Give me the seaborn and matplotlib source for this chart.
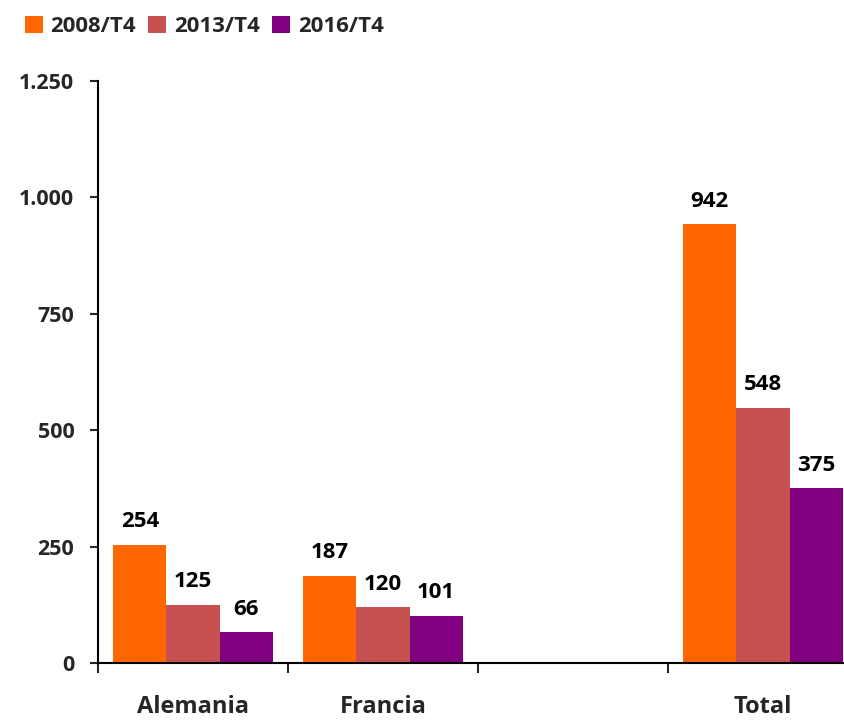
import numpy as np
import pandas as pd
import matplotlib
matplotlib.use("Agg")
import matplotlib.pyplot as plt
import matplotlib.ticker as mtick
from matplotlib.patches import Patch
import seaborn as sns

# Data
categories = ["Alemania", "Francia", "", "Total"]
series     = ["2008/T4", "2013/T4", "2016/T4"]
alemania   = [254, 125, 66]
francia    = [187, 120, 101]
total      = [942, 548, 375]
yticks     = [0, 250, 500, 750, 1000, 1250]

COLORS = ["#FF6600", "#C75050", "#800080"]

rows = []
for cat, vals in [("Alemania", alemania), ("Francia", francia), ("Total", total)]:
    for s, v in zip(series, vals):
        rows.append({"pais": cat, "periodo": s, "valor": v})
df = pd.DataFrame(rows)

sns.set_style("white")
plt.rcParams["font.family"] = ["Open Sans", "DejaVu Sans"]
plt.rcParams["font.weight"] = "bold"

fig = plt.figure(figsize=(8.44, 7.2), dpi=100)
ax = fig.add_axes([98 / 844, 57 / 720, 760 / 844, 582 / 720])

sns.barplot(data=df, x="pais", y="valor", hue="periodo", order=categories,
            hue_order=series, palette=COLORS, width=0.84, saturation=1,
            errorbar=None, ax=ax, legend=False, linewidth=0)

for cont in ax.containers:
    ax.bar_label(cont, labels=[f"{int(v)}" for v in cont.datavalues],
                 padding=9, fontsize=16, fontweight="bold", color="black")

ax.set_xlim(-0.5, 3.5)
ax.set_ylim(0, 1250)
ax.set_yticks(yticks)
ax.yaxis.set_major_formatter(mtick.FuncFormatter(lambda v, _: f"{int(v):,}".replace(",", ".")))
ax.tick_params(axis="y", length=6, width=1.5, pad=11, labelsize=15.5, direction="out", left=True)

ax.set_xticks(range(len(categories)))
ax.set_xticklabels(categories)
ax.set_xticks(np.arange(-0.5, 3.6, 1.0), minor=True)
ax.tick_params(axis="x", which="major", length=0, pad=23, labelsize=17)
ax.tick_params(axis="x", which="minor", length=7, width=1.5, direction="out", bottom=True)
for lab in ax.get_xticklabels() + ax.get_yticklabels():
    lab.set_fontweight("bold")

ax.set_xlabel("")
ax.set_ylabel("")
for side in ["top", "right"]:
    ax.spines[side].set_visible(False)
for side in ["left", "bottom"]:
    ax.spines[side].set_linewidth(1.5)
    ax.spines[side].set_color("black")

handles = [Patch(facecolor=c, edgecolor="none") for c in COLORS]
fig.legend(handles, series, loc="upper left", bbox_to_anchor=(0.006, 1.006),
           ncol=3, frameon=False, handlelength=0.8, handleheight=0.8,
           handletextpad=0.35, columnspacing=0.55, prop={"weight": "bold", "size": 16})

fig.savefig("out.png", dpi=100)
